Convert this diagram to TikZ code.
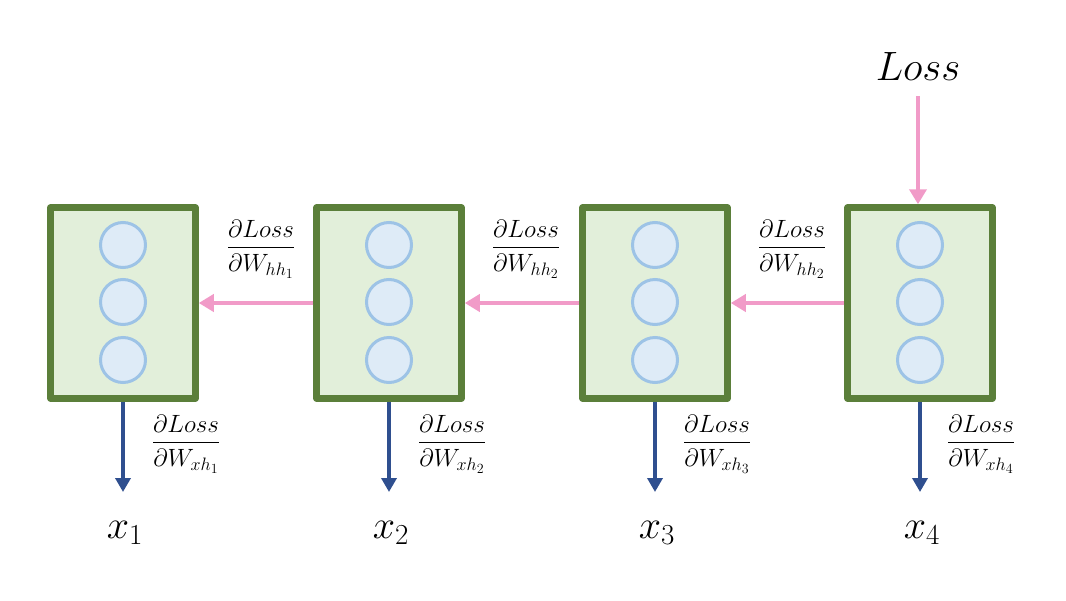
\RequirePackage{fix-cm}
\documentclass[tikz,border=0pt]{standalone}
\usepackage{amsmath}
\usetikzlibrary{arrows.meta}
\DeclareMathSizes{25}{25}{18}{14}
\DeclareMathSizes{40}{40}{29}{22}
\definecolor{boxgreen}{HTML}{5B7F3A}
\definecolor{boxfill}{HTML}{E2EFDA}
\definecolor{circline}{HTML}{9DC3E6}
\definecolor{circfill}{HTML}{DEEBF7}
\definecolor{pinkarrow}{HTML}{F19BC8}
\definecolor{bluearrow}{HTML}{2F4F8F}
\tikzset{
  cell/.style={draw=boxgreen, fill=boxfill, line width=6.5pt, line join=round,
    minimum width=145pt, minimum height=191pt, inner sep=0pt},
  unit/.style={circle, draw=circline, fill=circfill, line width=3pt, minimum size=45pt, inner sep=0pt},
  hharrow/.style={draw=pinkarrow, line width=4.5pt, -{Triangle[length=15pt,width=17pt]}},
  xharrow/.style={draw=bluearrow, line width=4pt, -{Triangle[length=14pt,width=15pt]}},
  grad/.style={inner sep=0pt, font=\fontsize{25}{30}\selectfont},
  xlab/.style={inner sep=0pt, font=\fontsize{40}{46}\selectfont},
  losslab/.style={inner sep=0pt, font=\fontsize{41}{48}\selectfont}
}
\begin{document}
\begin{tikzpicture}[x=1pt,y=-1pt]
\useasboundingbox (0,0) rectangle (1066,600);
\foreach \i/\cx in {1/123,2/389,3/655,4/920}{
  \node[cell] (b\i) at (\cx,303) {};
  \node[unit] (c\i a) at (\cx,245) {};
  \node[unit] (c\i b) at (\cx,302) {};
  \node[unit] (c\i c) at (\cx,360) {};
  \coordinate (d\i) at (\cx,492);
  \draw[xharrow] (b\i.south) -- (d\i);
  \node[xlab] (x\i) at (\cx+2,533) {$x_{\i}$};
}
\draw[hharrow] (b2.west |- 0,303) -- (b1.east |- 0,303);
\draw[hharrow] (b3.west |- 0,303) -- (b2.east |- 0,303);
\draw[hharrow] (b4.west |- 0,303) -- (b3.east |- 0,303);
\node[grad] (g21) at (261,249) {$\dfrac{\partial Loss}{\partial W_{hh_1}}$};
\node[grad] (g32) at (526,249) {$\dfrac{\partial Loss}{\partial W_{hh_2}}$};
\node[grad] (g43) at (792,249) {$\dfrac{\partial Loss}{\partial W_{hh_2}}$};
\node[grad] (gx1) at (186,444) {$\dfrac{\partial Loss}{\partial W_{xh_1}}$};
\node[grad] (gx2) at (452,444) {$\dfrac{\partial Loss}{\partial W_{xh_2}}$};
\node[grad] (gx3) at (717,444) {$\dfrac{\partial Loss}{\partial W_{xh_3}}$};
\node[grad] (gx4) at (981,444) {$\dfrac{\partial Loss}{\partial W_{xh_4}}$};
\node[losslab] (loss) at (918,66) {$Loss$};
\coordinate (lt) at (918,96);
\draw[hharrow] (lt) -- (lt |- b4.north);
\end{tikzpicture}
\end{document}
